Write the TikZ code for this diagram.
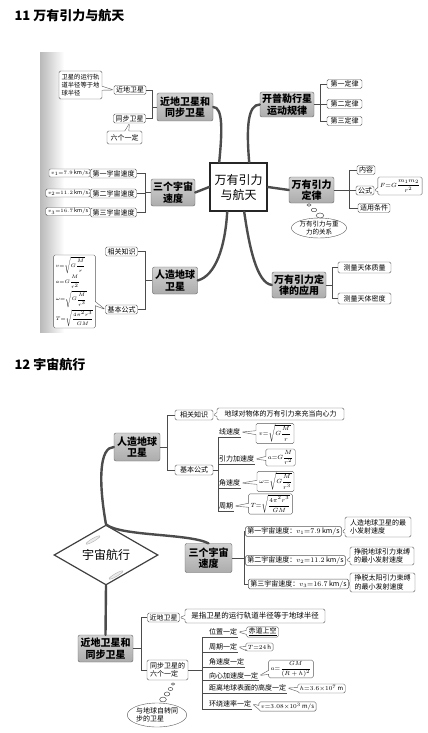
\documentclass[tikz,border=0pt]{standalone}
\usepackage{amsmath}
\usepackage{fontspec}
\setmainfont{Noto Sans CJK SC}
\usetikzlibrary{shapes.geometric,shapes.callouts}

\tikzset{
  title/.style={anchor=west, font=\fontsize{13}{15}\selectfont\bfseries},
  hubbox/.style={draw=black!85, line width=1.6pt, fill=white, align=center, inner sep=0pt, font=\fontsize{12}{15}\selectfont},
  topic/.style={draw=black!60, rounded corners=2pt, top color=gray!35, middle color=gray!10, bottom color=gray!65, align=center, inner sep=0pt, font=\fontsize{10}{11.5}\selectfont\bfseries},
  leaf/.style={draw=gray!70!black, rounded corners=1.5pt, fill=white, inner xsep=2pt, inner ysep=1pt, minimum height=9pt, font=\fontsize{7}{8.5}\selectfont},
  note/.style={leaf, rectangle callout, callout pointer width=4pt},
  fnote/.style={note, font=\fontsize{6}{7}\selectfont},
  bubble/.style={ellipse, draw=gray!70!black, fill=white, inner sep=0pt, align=center, font=\fontsize{6.5}{8}\selectfont},
  uline/.style={anchor=south west, inner xsep=1pt, inner ysep=1.5pt, font=\fontsize{7}{8.5}\selectfont},
  twig/.style={draw=gray!60!black, line width=0.5pt},
  branch/.style={draw=black!70, line width=2.4pt, line cap=round},
  gleam/.style={ellipse, draw=gray!60, fill=gray!15, inner sep=0pt, minimum width=16pt, minimum height=3pt, rotate=30}
}

\begin{document}
\begin{tikzpicture}[x=1pt, y=-1pt]
\useasboundingbox (0,0) rectangle (428,733);
\fill[white] (0,0) rectangle (428,733);

% ---------- 11 ----------
\node[title] (title1) at (11,16) {11 万有引力与航天};
\shade[left color=gray!55, right color=white] (40,53) rectangle (64,332);

\node[hubbox, minimum width=57pt, minimum height=48pt] (hub1) at (238.5,187) {万有引力\\与航天};
\node[topic, minimum width=56pt, minimum height=28pt] (near1) at (185,107) {近地卫星和\\同步卫星};
\node[topic, minimum width=54pt, minimum height=25pt] (kepler) at (287,104.5) {开普勒行星\\运动规律};
\node[topic, minimum width=44pt, minimum height=27pt] (speed1) at (173,192.5) {三个宇宙\\速度};
\node[topic, minimum width=45pt, minimum height=26pt] (grav) at (311.5,190) {万有引力\\定律};
\node[topic, minimum width=45pt, minimum height=27pt] (sat1) at (175,280.5) {人造地球\\卫星};
\node[topic, minimum width=54pt, minimum height=26pt] (app) at (299,285) {万有引力定\\律的应用};

\draw[branch] (near1.east) .. controls +(10,0) and +(3,-30) .. ([xshift=10pt]hub1.north west);
\draw[branch] ([xshift=40pt]hub1.north west) .. controls +(-3,-35) and +(-12,0) .. (kepler.west);
\draw[branch] (speed1.east) -- (hub1.west);
\draw[branch] (hub1.east) -- (grav.west);
\draw[branch] ([xshift=18pt]hub1.south west) .. controls +(-2,35) and +(18,-5) .. (sat1.east);
\draw[branch] ([xshift=35pt]hub1.south west) .. controls +(5,35) and +(-15,-2) .. (app.west);

% near-earth and synchronous satellites
\node[leaf] (nsat1) at (130,90) {近地卫星};
\node[leaf] (ssat1) at (129.5,118.5) {同步卫星};
\node[note, align=left, font=\fontsize{6.3}{8}\selectfont, minimum width=43pt, minimum height=28pt,
  callout absolute pointer=(nsat1.west)] (nnote1) at (80.5,85) {卫星的运行轨\\道半径等于地\\球半径};
\node[note, minimum width=35pt, minimum height=13pt, callout absolute pointer=(ssat1.south)] (snote1) at (124.5,137.5) {六个一定};
\draw[twig] (near1.west) -- ++(-5,0) coordinate (jn1);
\draw[twig] (nsat1.east) -| (jn1) |- (ssat1.east);

% Kepler
\node[leaf, minimum width=35pt] (law1) at (344.5,84) {第一定律};
\node[leaf, minimum width=35pt] (law2) at (344.5,104) {第二定律};
\node[leaf, minimum width=35pt] (law3) at (344.5,121) {第三定律};
\draw[twig] (kepler.east) -- ++(6,0) coordinate (jk);
\draw[twig] (law1.west) -| (jk) |- (law3.west);
\draw[twig] (jk) |- (law2.west);

% law of gravitation
\node[leaf] (cont) at (366,170) {内容};
\node[leaf] (fml) at (365,190.5) {公式};
\node[leaf] (cond) at (374,208) {适用条件};
\node[fnote, minimum width=34pt, minimum height=18pt, callout absolute pointer=(fml.east)] (fnote1) at (400,186) {$F{=}G\dfrac{m_1m_2}{r^2}$};
\draw[twig] (grav.east) -- ++(15,0) coordinate (jg);
\draw[twig] (cont.west) -| (jg) |- (cond.west);
\draw[twig] (jg) |- (fml.west);
\node[bubble, minimum width=53pt, minimum height=20pt] (rel) at (319,228) {万有引力与重\\力的关系};
\foreach \x/\y/\r in {309/205/1.3, 314/210/1.8, 320/215.5/2.5}
  \draw[twig, fill=white] (\x,\y) ellipse ({1.5*\r} and \r);

% applications
\node[leaf, minimum width=53pt, minimum height=11pt] (mass) at (364.5,267.5) {测量天体质量};
\node[leaf, minimum width=53pt, minimum height=11pt] (dens) at (364.5,298.5) {测量天体密度};
\draw[twig] (app.east) -- ++(6,0) coordinate (ja);
\draw[twig] (mass.west) -| (ja) |- (dens.west);

% cosmic speeds
\node[leaf, minimum width=45pt] (sp1) at (113.5,173.5) {第一宇宙速度};
\node[leaf, minimum width=45pt] (sp2) at (113.5,193.5) {第二宇宙速度};
\node[leaf, minimum width=45pt] (sp3) at (113.5,212.5) {第三宇宙速度};
\node[fnote, font=\fontsize{5.5}{6}\selectfont, minimum height=8pt, callout absolute pointer=(sp1.west)] (vv1) at (69.5,173) {$v_1{=}7.9\,\mathrm{km/s}$};
\node[fnote, font=\fontsize{5.5}{6}\selectfont, minimum height=8pt, callout absolute pointer=(sp2.west)] (vv2) at (68,193) {$v_2{=}11.2\,\mathrm{km/s}$};
\node[fnote, font=\fontsize{5.5}{6}\selectfont, minimum height=8pt, callout absolute pointer=(sp3.west)] (vv3) at (68,211.5) {$v_3{=}16.7\,\mathrm{km/s}$};
\draw[twig] (speed1.west) -- ++(-6,0) coordinate (js);
\draw[twig] (sp1.east) -| (js) |- (sp3.east);
\draw[twig] (js) |- (sp2.east);

% artificial satellites
\node[leaf] (know1) at (121.5,251.5) {相关知识};
\node[leaf] (basic1) at (121.5,309.5) {基本公式};
\node[fnote, align=left, font=\fontsize{5.5}{6.5}\selectfont, minimum width=37pt, minimum height=73pt,
  callout absolute pointer=(basic1.west)] (fml1) at (74.5,291.5)
  {$v{=}\sqrt{G\dfrac{M}{r}}$\\[1pt] $a{=}G\dfrac{M}{r^2}$\\[1pt] $\omega{=}\sqrt{G\dfrac{M}{r^3}}$\\[1pt] $T{=}\sqrt{\dfrac{4\pi^2r^3}{GM}}$};
\draw[twig] (sat1.west) -- ++(-7.5,0) coordinate (jst);
\draw[twig] (know1.east) -| (jst) |- (basic1.east);

% ---------- 12 ----------
\node[title] (title2) at (11,365) {12 宇宙航行};

\node[diamond, draw=black!75, line width=1.2pt, fill=white, minimum width=104pt, minimum height=60pt, inner sep=0pt, aspect=1.73,
  font=\fontsize{12}{15}\selectfont] (hub2) at (106,555) {宇宙航行};
\node[gleam] (gl1) at (93,540) {};
\node[gleam] (gl2) at (116,575) {};
\node[topic, minimum width=46pt, minimum height=28pt] (sat2) at (137,447) {人造地球\\卫星};
\node[topic, minimum width=47pt, minimum height=29pt] (speed2) at (208.5,558) {三个宇宙\\速度};
\node[topic, minimum width=55pt, minimum height=27pt] (near2) at (105.5,648.5) {近地卫星和\\同步卫星};

\draw[branch] (hub2.north) .. controls +(-8,-45) and +(-14,0) .. (sat2.west);
\draw[branch] (hub2.north) .. controls +(15,12) and +(-20,-10) .. (speed2.north);
\draw[branch] (hub2.south) -- (near2.north);

% artificial satellites
\node[leaf, minimum width=38pt, minimum height=10pt] (know2) at (194,415) {相关知识};
\node[leaf, minimum width=38pt, minimum height=10pt] (basic2) at (194,470) {基本公式};
\node[note, minimum width=127pt, minimum height=12pt, callout absolute pointer=(know2.east)] (knote2) at (280.5,414) {地球对物体的万有引力来充当向心力};
\draw[twig] (sat2.east) -- ++(7,0) coordinate (js2);
\draw[twig] (know2.west) -| (js2) |- (basic2.west);

\node[uline] (lv) at (218,437) {线速度};
\node[uline] (ga) at (218,464) {引力加速度};
\node[uline] (av) at (218,488) {角速度};
\node[uline] (pd) at (218,511) {周期};
\foreach \n in {lv,ga,av,pd}
  \draw[twig] (\n.south west) -- (\n.south east);
\draw[twig] (lv.south west) -- (pd.south west);
\draw[twig] (basic2.east) -- (basic2.east -| lv.south west);
\node[fnote, minimum width=38pt, minimum height=17pt, callout absolute pointer=(lv.east)] (vnote) at (275,433.5) {$v{=}\sqrt{G\dfrac{M}{r}}$};
\node[fnote, minimum width=27pt, minimum height=17pt, callout absolute pointer=(ga.east)] (anote) at (280.5,457.5) {$a{=}G\dfrac{M}{r^2}$};
\node[fnote, minimum width=37pt, minimum height=17pt, callout absolute pointer=(av.east)] (wnote) at (275.5,481.5) {$\omega{=}\sqrt{G\dfrac{M}{r^3}}$};
\node[fnote, minimum width=41pt, minimum height=18pt, callout absolute pointer=(pd.east)] (tnote) at (270.5,504) {$T{=}\sqrt{\dfrac{4\pi^2r^3}{GM}}$};

% cosmic speeds
\node[leaf, minimum width=89pt] (sp2a) at (293.5,531.5) {第一宇宙速度：$v_1{=}7.9\,\mathrm{km/s}$};
\node[leaf, minimum width=93pt] (sp2b) at (295.5,560.5) {第二宇宙速度：$v_2{=}11.2\,\mathrm{km/s}$};
\node[leaf, minimum width=97pt] (sp2c) at (298.5,584) {第三宇宙速度：$v_3{=}16.7\,\mathrm{km/s}$};
\node[note, align=left, minimum width=66pt, minimum height=20pt, callout absolute pointer=(sp2a.east)] (n2a) at (378,527) {人造地球卫星的最\\小发射速度};
\node[note, align=left, minimum width=64pt, minimum height=18pt, callout absolute pointer=(sp2b.east)] (n2b) at (382,556) {挣脱地球引力束缚\\的最小发射速度};
\node[note, align=left, minimum width=65pt, minimum height=19pt, callout absolute pointer=(sp2c.east)] (n2c) at (382.5,582.5) {挣脱太阳引力束缚\\的最小发射速度};
\draw[twig] (speed2.east) -- ++(12,0) coordinate (jsp2);
\draw[twig] (sp2a.west) -| (jsp2) |- (sp2c.west);
\draw[twig] (jsp2) |- (sp2b.west);

% near-earth and synchronous satellites
\node[leaf] (nsat2) at (163.5,617.5) {近地卫星};
\node[note, minimum width=140pt, minimum height=14pt, font=\fontsize{7.5}{9}\selectfont,
  callout absolute pointer=(nsat2.east)] (nnote2) at (255,616) {是指卫星的运行轨道半径等于地球半径};
\node[leaf, align=left, minimum width=41pt, minimum height=20pt] (sync2) at (167.5,670) {同步卫星的\\六个一定};
\draw[twig] (near2.east) -- ++(8,0) coordinate (jn2);
\draw[twig] (nsat2.west) -| (jn2) |- (sync2.west);
\node[bubble, minimum width=58pt, minimum height=24pt, align=left, font=\fontsize{7}{8.5}\selectfont] (selfrot) at (157,715) {与地球自转同\\步的卫星};
\foreach \x/\y/\r in {173/684/1.2, 170.5/689/1.6, 167/694/2, 163/699.5/2.4}
  \draw[twig, fill=white] (\x,\y) ellipse ({1.4*\r} and \r);

\node[uline] (pos) at (208,637) {位置一定};
\node[uline] (per) at (208,652) {周期一定};
\node[uline] (angv) at (208,667) {角速度一定};
\node[uline] (cacc) at (208,680.5) {向心加速度一定};
\node[uline] (alt) at (208,693) {距离地球表面的高度一定};
\node[uline] (orb) at (208,709) {环绕速率一定};
\draw[twig] (sync2.east) -- ++(14,0) coordinate (jsx);
\foreach \n in {pos,per,angv,cacc,alt,orb}
  \draw[twig] (jsx |- \n.south) -- (\n.south east);
\draw[twig] (jsx |- pos.south) -- (jsx |- orb.south);
\node[note, minimum width=31pt, minimum height=8pt, callout absolute pointer=(pos.east)] (c1) at (262.5,632) {\underline{赤道上空}};
\node[fnote, minimum width=25pt, minimum height=8pt, callout absolute pointer=(per.east)] (c2) at (259.5,647) {$T{=}24\,\mathrm{h}$};
\node[fnote, minimum width=38pt, minimum height=16pt, callout absolute pointer=(cacc.east)] (c3) at (291,669) {$a{=}\dfrac{GM}{(R+h)^2}$};
\node[fnote, minimum width=43pt, minimum height=9pt, callout absolute pointer=(alt.east)] (c4) at (321.5,688.5) {$h{=}3.6{\times}10^7\,\mathrm{m}$};
\node[fnote, minimum width=51pt, minimum height=9pt, callout absolute pointer=(orb.east)] (c5) at (287.5,706.5) {$v{=}3.08{\times}10^3\,\mathrm{m/s}$};
\end{tikzpicture}
\end{document}
